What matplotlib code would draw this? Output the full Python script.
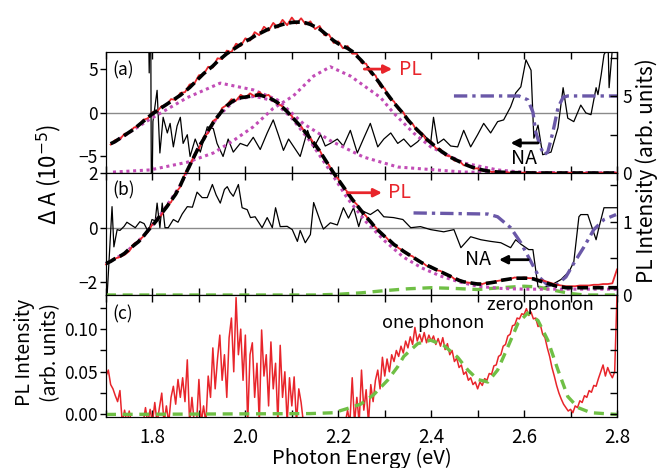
import numpy as np
import matplotlib
matplotlib.use("Agg")
import matplotlib.pyplot as plt
from matplotlib.ticker import MultipleLocator, FormatStrFormatter

plt.rcParams['font.family'] = ['Noto Sans CJK JP', 'DejaVu Sans']
plt.rcParams['font.size'] = 12.5

RED = '#e8252b'
MAG = '#c24cb6'
PURP = '#6a58a8'
GRN = '#6fbf45'

# ---------------- panel (a) ----------------
a_dA_E = [1.791, 1.793, 1.796, 1.798, 1.801, 1.810, 1.816, 1.823, 1.832, 1.838, 1.845, 1.853, 1.860,
          1.866, 1.875, 1.881, 1.892, 1.903, 1.918, 1.931, 1.939, 1.952, 1.963, 1.974, 1.989, 2.004,
          2.017, 2.032, 2.047, 2.060, 2.071, 2.082, 2.093, 2.103, 2.118, 2.134, 2.147, 2.162, 2.172,
          2.183, 2.198, 2.211, 2.226, 2.241, 2.254, 2.269, 2.285, 2.298, 2.313, 2.328, 2.341, 2.356,
          2.371, 2.384, 2.399, 2.405, 2.414, 2.427, 2.442, 2.457, 2.470, 2.485, 2.500, 2.513, 2.528,
          2.543, 2.556, 2.571, 2.582, 2.593, 2.604, 2.615, 2.621, 2.630, 2.640, 2.658, 2.673, 2.684,
          2.694, 2.707, 2.722, 2.733, 2.744, 2.755, 2.759, 2.766, 2.772, 2.781, 2.783, 2.791, 2.800]
a_dA = [12, 4.6, 15, -15, -1.0, 2.6, -4.6, -0.5, -2.3, -1.2, -3.9, -1.5, -0.5,
        -3.5, -2.5, -5.0, -3.0, -4.5, -1.6, -1.8, -3.5, -5.0, -3.0, -4.5, -3.5, -3.8,
        -2.8, -4.2, -2.3, -0.8, -2.5, -4.3, -3.0, -3.8, -5.0, -2.0, -4.0, -2.5, -3.8,
        -3.5, -3.0, -3.8, -2.0, -4.6, -3.0, -1.2, -3.9, -3.0, -2.3, -3.5, -3.0, -3.9,
        -3.3, -2.5, -3.4, -0.5, -3.5, -3.0, -3.8, -3.9, -2.0, -3.9, -2.5, -1.2, -2.3,
        -1.0, -0.8, 0.7, 2.3, 3.0, 6.1, 4.9, -2.9, -1.4, -4.8, -4.5, -1.7, 2.9,
        -0.6, -1.0, 0.9, 0.0, -0.2, 2.9, 2.1, 4.4, 6.7, 7.5, 2.9, 8.0, 8.0]

a_NA_E = [2.449, 2.589, 2.608, 2.619, 2.625, 2.636, 2.643, 2.651, 2.662, 2.673, 2.684, 2.694, 2.800]
a_NA = [1.95, 1.95, 1.5, 0.1, -2.2, -4.0, -4.8, -4.5, -2.2, 0.6, 1.8, 1.95, 1.95]

a_PL_E = np.arange(171, 281) / 100.0
a_PL = [1.85, 2.15, 2.2, 2.55, 2.6, 2.95, 3.05, 3.45, 3.55, 3.95,
        4.0, 4.35, 4.4, 4.8, 4.75, 5.2, 5.25, 5.75, 5.8, 6.35,
        6.4, 6.9, 6.85, 7.45, 7.4, 7.95, 7.85, 8.4, 8.25, 8.75,
        8.6, 9.15, 8.95, 9.5, 9.25, 9.75, 9.45, 9.95, 9.6, 10.1,
        9.7, 10.05, 9.65, 9.85, 9.35, 9.55, 8.95, 9.0, 8.45, 8.55,
        8.1, 8.25, 7.75, 7.75, 7.15, 7.1, 6.45, 6.35, 5.65, 5.5,
        4.85, 4.65, 4.1, 3.95, 3.35, 3.2, 2.7, 2.6, 2.1, 2.05,
        1.6, 1.55, 1.15, 1.1, 0.8, 0.8, 0.5, 0.5, 0.3, 0.3,
        0.15, 0.17, 0.07, 0.09, 0.03, 0.06, 0.02, 0.04, 0.0, 0.03,
        0.01, 0.03, 0.0, 0.02, 0.01, 0.03, 0.0, 0.02, 0.01, 0.02,
        0.0, 0.02, 0.01, 0.02, 0.0, 0.01, 0.02, 0.0, 0.01, 0.02]
a_fit = [1.9, 2.05, 2.25, 2.45, 2.65, 2.85, 3.1, 3.35, 3.6, 3.85,
         4.05, 4.25, 4.45, 4.65, 4.85, 5.05, 5.3, 5.55, 5.85, 6.15,
         6.45, 6.7, 6.95, 7.25, 7.5, 7.75, 7.95, 8.15, 8.35, 8.55,
         8.7, 8.9, 9.05, 9.2, 9.35, 9.45, 9.55, 9.65, 9.72, 9.78,
         9.8, 9.8, 9.75, 9.65, 9.5, 9.35, 9.1, 8.85, 8.6, 8.4,
         8.25, 8.1, 7.9, 7.6, 7.3, 6.95, 6.6, 6.2, 5.8, 5.35,
         4.95, 4.55, 4.2, 3.85, 3.45, 3.1, 2.8, 2.5, 2.2, 1.95,
         1.7, 1.45, 1.25, 1.05, 0.9, 0.75, 0.6, 0.47, 0.36, 0.27,
         0.2, 0.14, 0.1, 0.07, 0.05, 0.04, 0.03, 0.02, 0.02, 0.01,
         0.01, 0, 0, 0, 0, 0, 0, 0, 0, 0,
         0, 0, 0, 0, 0, 0, 0, 0, 0, 0]

a_g1_E = [1.715, 1.795, 1.875, 1.946, 2.017, 2.069, 2.125, 2.183, 2.254, 2.328, 2.470, 2.800]
a_g1 = [1.95, 3.5, 4.9, 5.84, 5.4, 4.75, 3.2, 2.1, 1.04, 0.39, 0.06, 0.0]
a_g2_E = [1.715, 1.795, 1.875, 1.931, 1.974, 2.017, 2.060, 2.103, 2.147, 2.183, 2.226, 2.291,
          2.319, 2.362, 2.399, 2.470, 2.543, 2.615, 2.800]
a_g2 = [0.06, 0.2, 0.7, 1.3, 2.1, 3.0, 4.2, 5.0, 6.3, 6.9, 6.3, 4.9,
        3.9, 2.6, 1.7, 0.65, 0.2, 0.0, 0.0]

# ---------------- panel (b) ----------------
b_dA_E = [1.702, 1.713, 1.717, 1.724, 1.730, 1.739, 1.745, 1.754, 1.763, 1.773, 1.782, 1.791, 1.799,
          1.806, 1.810, 1.816, 1.821, 1.827, 1.834, 1.845, 1.855, 1.864, 1.875, 1.886, 1.896, 1.907,
          1.918, 1.929, 1.937, 1.946, 1.955, 1.961, 1.967, 1.974, 1.985, 1.993, 2.004, 2.011, 2.021,
          2.036, 2.047, 2.058, 2.065, 2.075, 2.090, 2.101, 2.112, 2.118, 2.129, 2.140, 2.147, 2.162,
          2.168, 2.183, 2.198, 2.211, 2.222, 2.233, 2.244, 2.254, 2.269, 2.285, 2.298, 2.319, 2.339,
          2.356, 2.377, 2.399, 2.427, 2.449, 2.464, 2.485, 2.507, 2.528, 2.550, 2.571, 2.582, 2.593,
          2.610, 2.619, 2.630, 2.640, 2.658, 2.679, 2.697, 2.707, 2.718, 2.722, 2.737, 2.755, 2.761,
          2.772, 2.783, 2.800]
b_dA = [-2.6, 0.77, -0.7, -0.07, -0.1, 0.05, 0.2, 0.1, 0.0, 0.22, 0.15, -0.15, 0.3,
        0.25, 0.9, 0.0, 0.9, 0.0, 0.0, 0.3, 0.2, 0.5, 0.77, 0.75, 1.3, 1.1,
        1.1, 1.58, 1.2, 0.9, 1.4, 1.5, 1.3, 1.15, 1.58, 0.73, 0.66, 0.37, 0.4,
        0.0, 0.37, 0.0, 0.73, 0.04, 0.05, -0.07, -0.5, -0.1, -0.55, -0.25, 0.92, 0.2,
        -0.05, 0.18, 0.1, 0.73, 0.35, 0.73, 0.04, 0.6, 0.48, 0.66, 0.4, 0.37, 0.3,
        0.0, 0.04, -0.07, -0.15, -0.07, -0.73, -0.33, -0.44, -0.5, -0.55, -0.73, -0.44, -0.6,
        -0.8, -0.8, -2.16, -2.2, -2.1, -1.9, -1.6, -1.25, 0.4, 0.48, 0.48, -0.44, 0.0,
        0.73, 0.73, 0.73]

b_NA_E = [2.362, 2.522, 2.543, 2.571, 2.593, 2.615, 2.632, 2.651, 2.669, 2.690, 2.707, 2.729,
          2.750, 2.772, 2.798]
b_NA = [0.54, 0.5, 0.4, 0.0, -0.55, -1.25, -1.8, -2.1, -2.1, -1.8, -1.3, -0.7, -0.07, 0.3, 0.48]

b_PL_E = np.arange(170, 281) / 100.0
b_PL = [0.42, 0.47, 0.5, 0.52, 0.55, 0.6, 0.7, 0.74, 0.8, 0.86,
        0.97, 1.02, 1.1, 1.22, 1.27, 1.4, 1.48, 1.66, 1.76, 1.92,
        2.0, 2.16, 2.22, 2.38, 2.42, 2.56, 2.6, 2.68, 2.66, 2.74,
        2.7, 2.76, 2.72, 2.78, 2.72, 2.74, 2.66, 2.62, 2.58, 2.5,
        2.45, 2.36, 2.31, 2.21, 2.15, 2.05, 1.98, 1.86, 1.78, 1.66,
        1.59, 1.48, 1.41, 1.3, 1.24, 1.14, 1.08, 0.99, 0.93, 0.85,
        0.81, 0.74, 0.7, 0.64, 0.61, 0.55, 0.53, 0.47, 0.45, 0.4,
        0.39, 0.34, 0.33, 0.28, 0.27, 0.22, 0.21, 0.18, 0.17, 0.16,
        0.16, 0.15, 0.17, 0.17, 0.19, 0.2, 0.22, 0.22, 0.24, 0.23,
        0.24, 0.23, 0.23, 0.21, 0.2, 0.18, 0.16, 0.14, 0.13, 0.12,
        0.12, 0.12, 0.13, 0.13, 0.13, 0.14, 0.14, 0.15, 0.15, 0.16,
        0.35]
b_fit = [0.43, 0.46, 0.5, 0.53, 0.57, 0.63, 0.68, 0.73, 0.8, 0.88,
         0.95, 1.03, 1.12, 1.2, 1.29, 1.38, 1.5, 1.64, 1.77, 1.9,
         2.03, 2.13, 2.25, 2.35, 2.44, 2.52, 2.59, 2.64, 2.68, 2.7,
         2.71, 2.72, 2.73, 2.74, 2.72, 2.7, 2.67, 2.63, 2.57, 2.51,
         2.44, 2.37, 2.3, 2.22, 2.14, 2.06, 1.97, 1.87, 1.77, 1.67,
         1.58, 1.49, 1.4, 1.31, 1.23, 1.15, 1.07, 1.0, 0.92, 0.86,
         0.8, 0.75, 0.69, 0.65, 0.6, 0.56, 0.52, 0.48, 0.44, 0.41,
         0.38, 0.35, 0.32, 0.29, 0.26, 0.23, 0.2, 0.18, 0.17, 0.16,
         0.15, 0.15, 0.16, 0.17, 0.18, 0.2, 0.21, 0.22, 0.23, 0.23,
         0.23, 0.23, 0.22, 0.2, 0.18, 0.16, 0.14, 0.12, 0.11, 0.1,
         0.1, 0.1, 0.1, 0.1, 0.1, 0.1, 0.1, 0.1, 0.1, 0.1,
         0.1]
b_dot_E = [1.70, 1.74, 1.78, 1.82, 1.86, 1.90, 1.94, 1.98, 2.02, 2.06, 2.10, 2.14, 2.18, 2.22,
           2.26, 2.30, 2.34, 2.38, 2.42, 2.46, 2.50, 2.55, 2.60, 2.70, 2.80]
b_dot = [0.43, 0.57, 0.8, 1.12, 1.5, 2.03, 2.44, 2.68, 2.72, 2.66, 2.42, 2.1, 1.72, 1.32,
         1.0, 0.74, 0.52, 0.37, 0.26, 0.18, 0.12, 0.09, 0.08, 0.08, 0.08]
b_grn_E = [1.70, 2.15, 2.20, 2.25, 2.30, 2.35, 2.40, 2.45, 2.50, 2.55, 2.60, 2.63, 2.66, 2.70,
           2.73, 2.80]
b_grn = [0.0, 0.0, 0.01, 0.03, 0.06, 0.085, 0.1, 0.09, 0.075, 0.1, 0.12, 0.11, 0.07, 0.02,
         0.0, 0.0]

# ---------------- panel (c) ----------------
c_E = np.arange(340, 561) / 200.0
c_PL = [0.045, 0.052, 0.035, 0.030, 0.022, 0.015, 0.028, -0.01, 0.005, -0.01,
        0.004, -0.01, -0.01, -0.01, -0.01, -0.01, -0.01, 0.008, -0.01, 0.006,
        -0.01, 0.014, -0.01, 0.008, 0.025, -0.01, 0.01, -0.01, 0.02, 0.033,
        0.012, 0.041, 0.02, 0.043, 0.015, 0.064, -0.01, 0.02, -0.01, -0.01,
        0.041, -0.01, 0.01, -0.01, 0.045, 0.02, 0.078, 0.03, 0.065, 0.093,
        0.04, 0.07, 0.02, 0.09, 0.113, 0.05, 0.137, 0.07, 0.1, 0.04,
        0.093, -0.01, 0.07, 0.084, 0.02, 0.06, -0.01, 0.099, 0.045, 0.07,
        0.01, 0.085, 0.03, 0.06, -0.01, 0.081, 0.02, 0.05, -0.01, 0.043,
        0.01, 0.044, -0.01, 0.03, 0.014, -0.01, -0.01, -0.01, -0.01, -0.01,
        -0.01, -0.01, -0.01, -0.01, -0.01, -0.01, -0.01, -0.01, -0.01, -0.01,
        -0.01, -0.01, -0.01, -0.01, 0.005, -0.01, 0.043, -0.01, 0.02, -0.01,
        0.052, 0.005, 0.029, -0.01, 0.035, 0.015, 0.04, 0.052, 0.03, 0.067,
        0.045, 0.065, 0.05, 0.07, 0.062, 0.075, 0.068, 0.08, 0.072, 0.086,
        0.078, 0.091, 0.082, 0.102, 0.086, 0.094, 0.085, 0.096, 0.084, 0.093,
        0.086, 0.092, 0.082, 0.089, 0.08, 0.09, 0.076, 0.083, 0.07, 0.075,
        0.062, 0.066, 0.055, 0.058, 0.047, 0.05, 0.04, 0.043, 0.035, 0.038,
        0.03, 0.038, 0.034, 0.042, 0.04, 0.048, 0.047, 0.057, 0.058, 0.068,
        0.07, 0.08, 0.082, 0.092, 0.094, 0.104, 0.105, 0.113, 0.112, 0.118,
        0.117, 0.124, 0.116, 0.12, 0.112, 0.113, 0.103, 0.105, 0.094, 0.09,
        0.078, 0.068, 0.055, 0.045, 0.034, 0.025, 0.018, 0.012, 0.008, 0.004,
        0.006, 0.002, 0.01, 0.008, 0.016, 0.014, 0.022, 0.02, 0.028, 0.026,
        0.034, 0.033, 0.042, 0.05, 0.058, 0.045, 0.055, 0.048, 0.043, 0.05,
        0.14]
c_fit_E = [1.70, 2.14, 2.19, 2.22, 2.248, 2.276, 2.306, 2.328, 2.341, 2.371, 2.399, 2.427, 2.457,
           2.479, 2.50, 2.522, 2.543, 2.565, 2.587, 2.608, 2.63, 2.651, 2.673, 2.694, 2.716,
           2.744, 2.80]
c_fit = [0.0, 0.001, 0.002, 0.007, 0.012, 0.023, 0.04, 0.056, 0.068, 0.083, 0.087, 0.081, 0.067,
         0.052, 0.041, 0.038, 0.052, 0.079, 0.107, 0.119, 0.11, 0.087, 0.052, 0.021, 0.008,
         0.002, 0.0]

W, H = 658, 468
fig = plt.figure(figsize=(W / 100, H / 100), dpi=100)
L, R = 106 / W, 617 / W
def box(top, bot):
    return [L, 1 - bot / H, R - L, (bot - top) / H]

ax_a = fig.add_axes(box(52, 173))
ax_a2 = ax_a.twinx()
ax_b = fig.add_axes(box(173, 295))
ax_b2 = ax_b.twinx()
ax_c = fig.add_axes(box(295, 417))
ax_c2 = ax_c.twinx()

for ax in (ax_a, ax_b, ax_c):
    ax.set_xlim(1.7, 2.8)
    ax.xaxis.set_major_locator(MultipleLocator(0.2))
    ax.xaxis.set_minor_locator(MultipleLocator(0.1))
    ax.tick_params(axis='x', which='both', direction='in', top=True, length=5, width=1, pad=7,
                   labelsize=13.5)
    ax.tick_params(axis='y', which='both', direction='out', length=4, width=1, pad=2)
for ax in (ax_a2, ax_b2, ax_c2):
    ax.tick_params(axis='y', which='both', direction='in', length=5, width=1, pad=4)
for ax in (ax_a, ax_b):
    ax.tick_params(axis='x', labelbottom=False)

# panel (a)
ax_a.axhline(0, color='#8a8a8a', lw=1)
ax_a.plot(a_dA_E, a_dA, color='k', lw=0.9)
ax_a.plot(a_NA_E, a_NA, color=PURP, lw=2.4, dashes=(4, 1.5, 1, 1.5))
ax_a.set_ylim(-6.9, 7.0)
ax_a.set_yticks([-5, 0, 5])
ax_a2.plot(a_g1_E, a_g1, color=MAG, lw=2.2, dashes=(1, 1.2), clip_on=False)
ax_a2.plot(a_g2_E, a_g2, color=MAG, lw=2.2, dashes=(1, 1.2), clip_on=False)
ax_a2.plot(a_PL_E, a_PL, color=RED, lw=1.3, clip_on=False)
ax_a2.plot(a_PL_E, a_fit, color='k', lw=2.6, dashes=(3, 1.3), clip_on=False)
ax_a2.set_ylim(0, 7.86)
ax_a2.set_yticks([0, 5])
ax_a2.yaxis.set_minor_locator(MultipleLocator(2.5))
ax_a.text(0.012, 0.85, '(a)', transform=ax_a.transAxes, va='center', fontsize=12.5)
ax_a2.annotate('', xy=(2.322, 6.75), xytext=(2.250, 6.75),
               arrowprops=dict(arrowstyle='-|>', color=RED, lw=2, mutation_scale=12))
ax_a2.text(2.330, 6.75, 'PL', color=RED, va='center', ha='left', fontsize=14)
ax_a.annotate('', xy=(2.565, -3.45), xytext=(2.636, -3.45),
              arrowprops=dict(arrowstyle='-|>', color='k', lw=2, mutation_scale=12))
ax_a.text(2.600, -5.2, 'NA', va='center', ha='center', fontsize=14)

# panel (b)
ax_b.axhline(0, color='#8a8a8a', lw=1)
ax_b.plot(b_dA_E, b_dA, color='k', lw=0.9)
ax_b.plot(b_NA_E, b_NA, color=PURP, lw=2.4, dashes=(4, 1.5, 1, 1.5))
ax_b.set_ylim(-2.46, 2.0)
ax_b.set_yticks([-2, 0, 2])
ax_b2.plot(b_grn_E, b_grn, color=GRN, lw=2.4, dashes=(3, 2), clip_on=False)
ax_b2.plot(b_dot_E, b_dot, color=MAG, lw=2.2, dashes=(1, 1.2), clip_on=False)
ax_b2.plot(b_PL_E, b_PL, color=RED, lw=1.3, clip_on=False)
ax_b2.plot(b_PL_E, b_fit, color='k', lw=2.6, dashes=(3, 1.3), clip_on=False)
ax_b2.set_ylim(0, 1.67)
ax_b2.set_yticks([0, 1])
ax_b2.yaxis.set_minor_locator(MultipleLocator(0.5))
ax_b.text(0.012, 0.86, '(b)', transform=ax_b.transAxes, va='center', fontsize=12.5)
ax_b2.annotate('', xy=(2.300, 1.40), xytext=(2.213, 1.40),
               arrowprops=dict(arrowstyle='-|>', color=RED, lw=2, mutation_scale=12))
ax_b2.text(2.308, 1.40, 'PL', color=RED, va='center', ha='left', fontsize=14)
ax_b.annotate('', xy=(2.540, -1.17), xytext=(2.615, -1.17),
              arrowprops=dict(arrowstyle='-|>', color='k', lw=2, mutation_scale=12))
ax_b.text(2.500, -1.17, 'NA', va='center', ha='center', fontsize=14)

# panel (c)
ax_c.plot(c_E, c_PL, color=RED, lw=1.1)
ax_c.plot(c_fit_E, c_fit, color=GRN, lw=2.4, dashes=(3, 2))
ax_c.set_ylim(-0.003, 0.14)
ax_c.yaxis.set_major_locator(MultipleLocator(0.05))
ax_c.yaxis.set_minor_locator(MultipleLocator(0.025))
ax_c.yaxis.set_major_formatter(FormatStrFormatter('%.2f'))
ax_c2.set_ylim(ax_c.get_ylim())
ax_c2.yaxis.set_major_locator(MultipleLocator(0.025))
ax_c2.tick_params(axis='y', labelright=False)
ax_c.text(0.012, 0.84, '(c)', transform=ax_c.transAxes, va='center', fontsize=12.5)
ax_c.text(2.405, 0.107, 'one phonon', ha='center', va='center', fontsize=13)
ax_c.text(2.636, 0.128, 'zero phonon', ha='center', va='center', fontsize=13)

fig.text(0.074, 1 - 174 / H, 'Δ A (10$^{-5}$)', rotation=90, ha='center', va='center', fontsize=16)
fig.text(0.983, 1 - 171 / H, 'PL Intensity (arb. units)', rotation=90, ha='center', va='center',
         fontsize=15)
fig.text(0.057, 1 - 352 / H, 'PL Intensity\n(arb. units)', rotation=90, ha='center', va='center',
         fontsize=14, linespacing=1.3)
fig.text(0.55, 1 - 458 / H, 'Photon Energy (eV)', ha='center', va='center', fontsize=14.5)

fig.savefig('out.png', dpi=100)
